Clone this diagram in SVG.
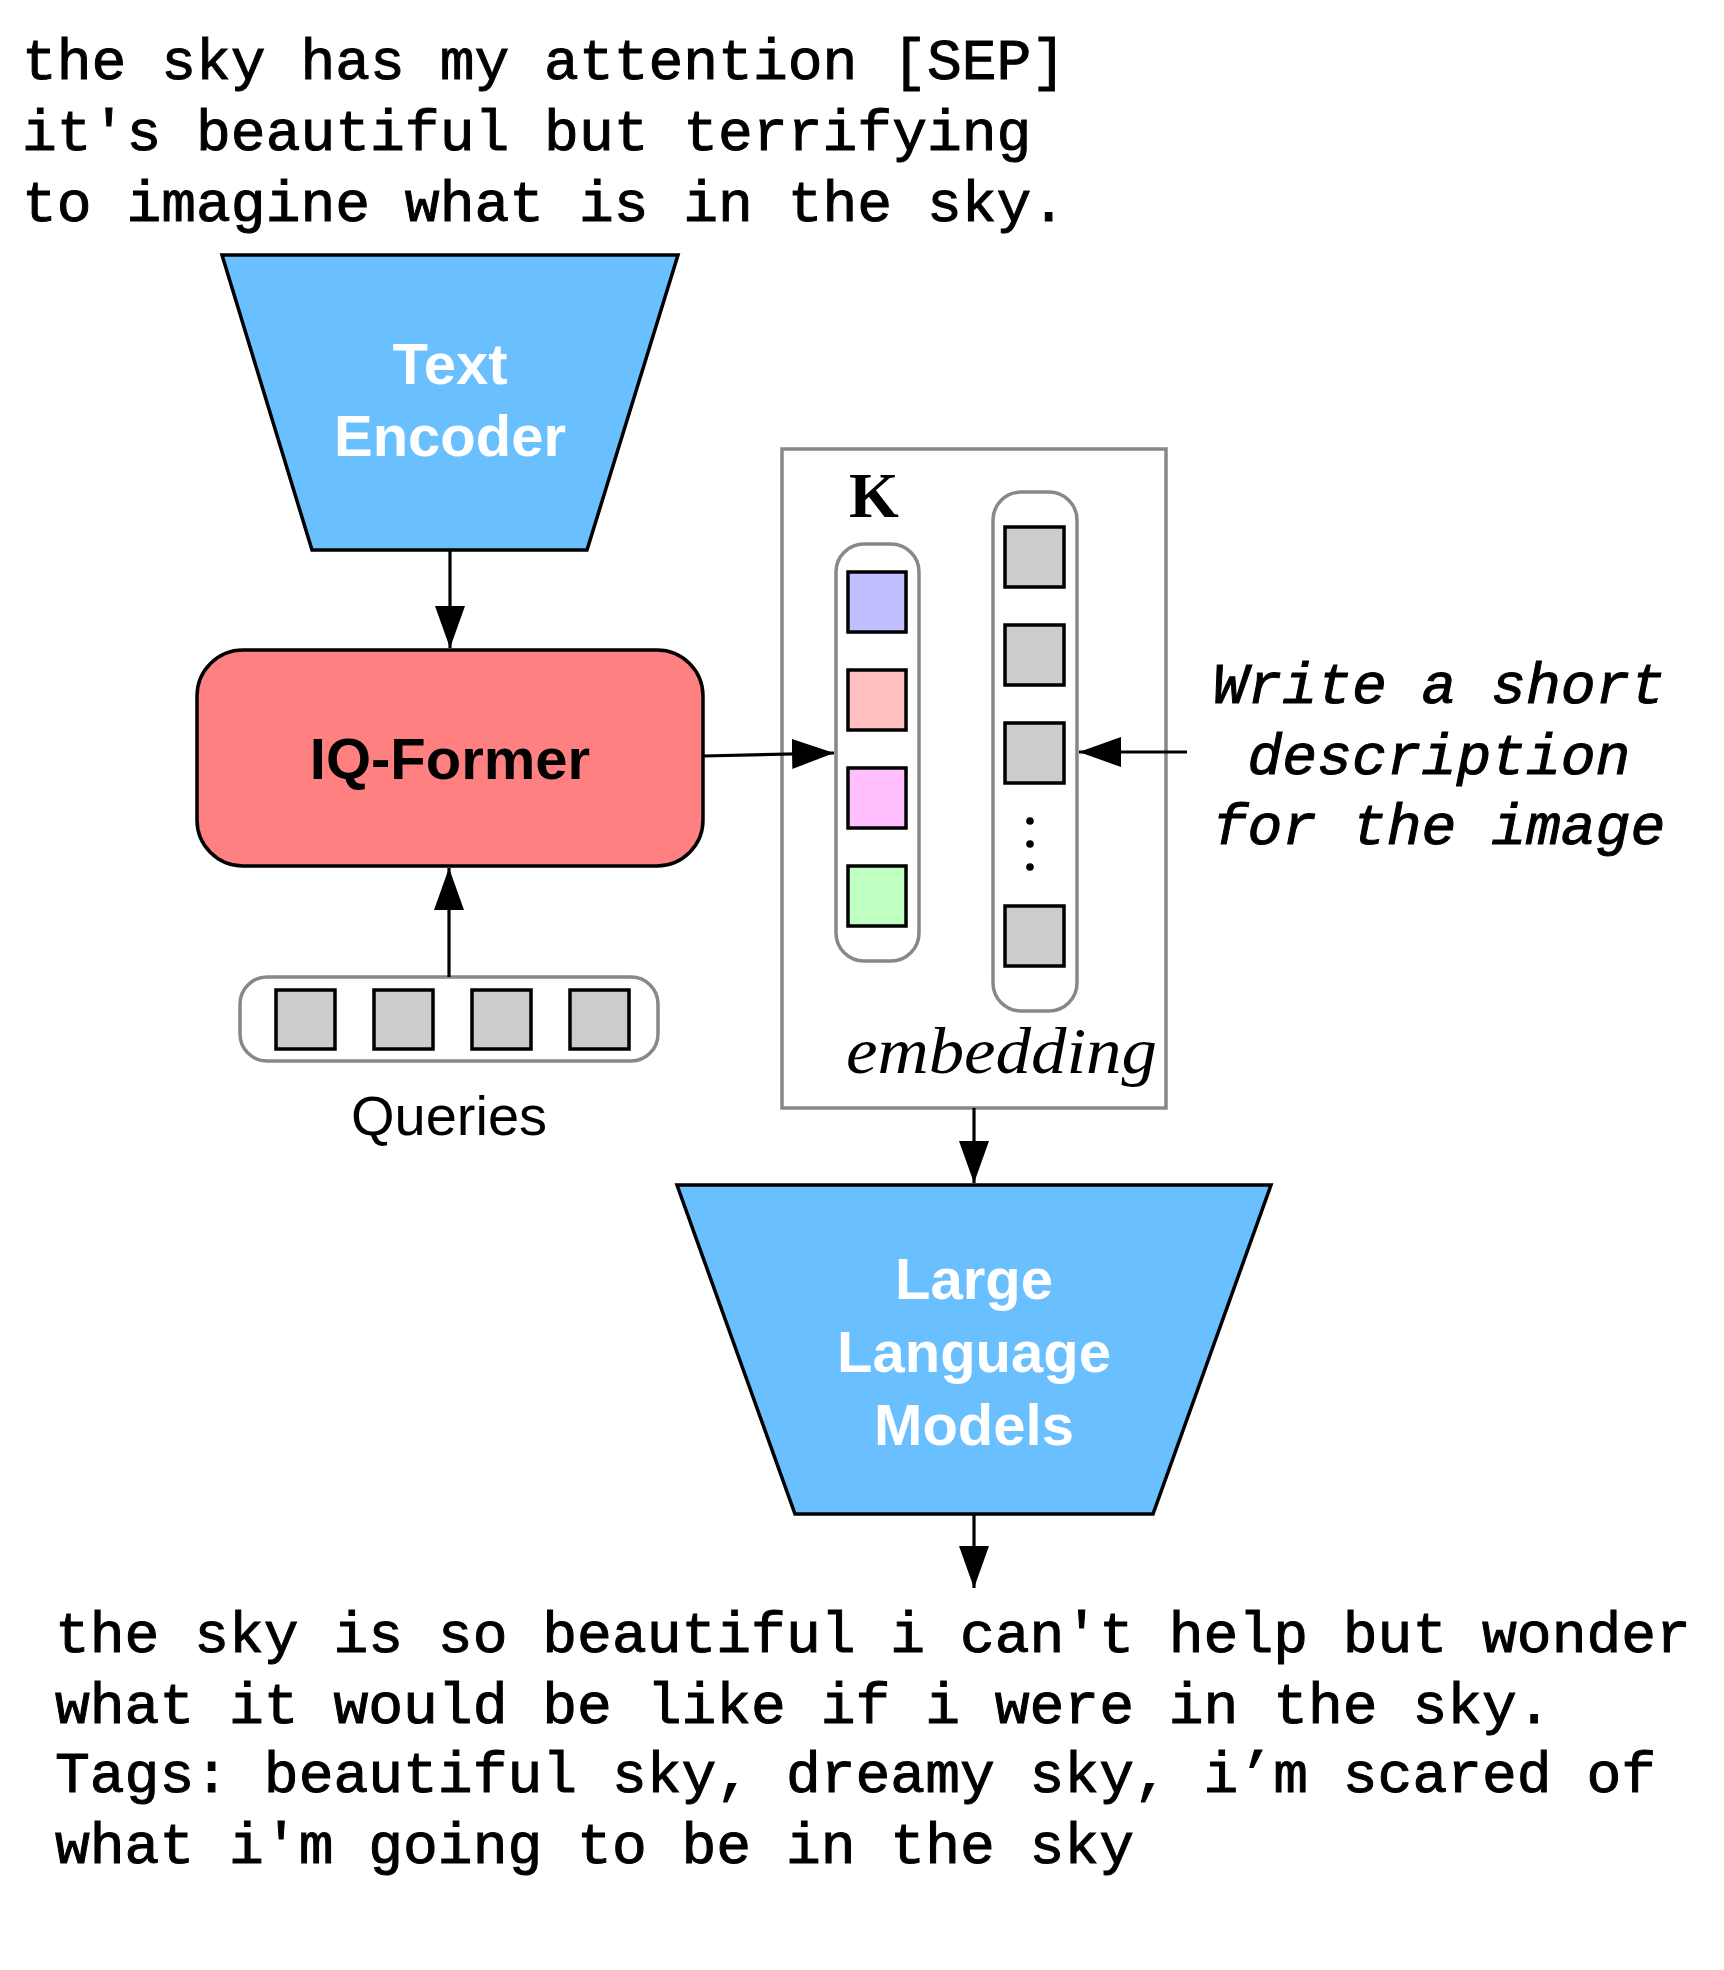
<svg xmlns="http://www.w3.org/2000/svg" width="1724" height="1970" viewBox="0 0 1724 1970">
<style>
.mono{font-family:"Liberation Mono","DejaVu Sans Mono",monospace;font-size:58px;fill:#000;stroke:#000;stroke-width:1}
.monoi{font-family:"Liberation Mono","DejaVu Sans Mono",monospace;font-size:58px;font-style:italic;fill:#000;stroke:#000;stroke-width:1}
.lbl{font-family:"Liberation Sans",Arial,sans-serif;font-size:58px;font-weight:bold;text-anchor:middle}
.blue{fill:#6ABFFF;stroke:#000;stroke-width:3.5;stroke-linejoin:miter}
.gbox{fill:#fff;stroke:#888;stroke-width:3.5}
.sq{fill:#CCCCCC;stroke:#000;stroke-width:3.5}
.conn{stroke:#000;stroke-width:3.2;fill:none}
</style>
<defs>
<marker id="ah" markerUnits="userSpaceOnUse" markerWidth="42" markerHeight="30" refX="42" refY="15" orient="auto">
<path d="M0,0 L42,15 L0,30 z" fill="#000"/>
</marker>
</defs>
<rect width="1724" height="1970" fill="#fff"/>

<g id="input-text">
<text class="mono" x="22" y="79">the sky has my attention [SEP]</text>
<text class="mono" x="22" y="150">it's beautiful but terrifying</text>
<text class="mono" x="22" y="221">to imagine what is in the sky.</text>
</g>

<g id="text-encoder">
<polygon class="blue" points="222,255 678,255 587,550 312,550"/>
<text class="lbl" x="450" y="384" fill="#fff">Text</text>
<text class="lbl" x="450" y="456" fill="#fff">Encoder</text>
</g>

<g id="iq-former">
<rect x="197" y="650" width="506" height="216" rx="46" ry="46" fill="#FF8080" stroke="#000" stroke-width="3.5"/>
<text class="lbl" x="450" y="779" fill="#000">IQ-Former</text>
</g>

<g id="queries">
<rect class="gbox" x="240" y="977" width="418" height="84" rx="27" ry="27"/>
<rect class="sq" x="276" y="990" width="59" height="59"/>
<rect class="sq" x="374" y="990" width="59" height="59"/>
<rect class="sq" x="472" y="990" width="59" height="59"/>
<rect class="sq" x="570" y="990" width="59" height="59"/>
<text x="449" y="1135" font-family="Liberation Sans,Arial,sans-serif" font-size="56" text-anchor="middle" fill="#000">Queries</text>
</g>

<g id="embedding-box">
<rect x="782" y="449" width="384" height="659" fill="none" stroke="#888" stroke-width="3.5"/>
<text x="849" y="517" font-family="Liberation Serif,'Times New Roman',serif" font-size="64" font-weight="bold" fill="#000">K</text>
<text x="846" y="1073" font-family="Liberation Serif,'Times New Roman',serif" font-size="66" font-style="italic" textLength="311" lengthAdjust="spacingAndGlyphs" fill="#000">embedding</text>
</g>

<g id="k-column">
<rect class="gbox" x="836" y="544" width="83" height="417" rx="28" ry="28"/>
<rect x="848" y="572" width="58" height="60" fill="#BFBFFF" stroke="#000" stroke-width="3.5"/>
<rect x="848" y="670" width="58" height="60" fill="#FFBFBF" stroke="#000" stroke-width="3.5"/>
<rect x="848" y="768" width="58" height="60" fill="#FFBFFF" stroke="#000" stroke-width="3.5"/>
<rect x="848" y="866" width="58" height="60" fill="#BFFFBF" stroke="#000" stroke-width="3.5"/>
</g>

<g id="prompt-column">
<rect class="gbox" x="993" y="492" width="84" height="519" rx="28" ry="28"/>
<rect class="sq" x="1005" y="527" width="59" height="60"/>
<rect class="sq" x="1005" y="625" width="59" height="60"/>
<rect class="sq" x="1005" y="723" width="59" height="60"/>
<circle cx="1030" cy="821" r="3.8" fill="#000"/>
<circle cx="1030" cy="844" r="3.8" fill="#000"/>
<circle cx="1030" cy="867" r="3.8" fill="#000"/>
<rect class="sq" x="1005" y="906" width="59" height="60"/>
</g>

<g id="prompt-text">
<text class="monoi" x="1439" y="703" text-anchor="middle">Write a short</text>
<text class="monoi" x="1439" y="774" text-anchor="middle">description</text>
<text class="monoi" x="1439" y="844" text-anchor="middle">for the image</text>
</g>

<g id="llm">
<polygon class="blue" points="677,1185 1271,1185 1153,1514 795,1514"/>
<text class="lbl" x="974" y="1299" fill="#fff">Large</text>
<text class="lbl" x="974" y="1372" fill="#fff">Language</text>
<text class="lbl" x="974" y="1445" fill="#fff">Models</text>
</g>

<g id="output-text">
<text class="mono" x="55" y="1652">the sky is so beautiful i can't help but wonder</text>
<text class="mono" x="55" y="1723">what it would be like if i were in the sky.</text>
<text class="mono" x="55" y="1792">Tags: beautiful sky, dreamy sky, i’m scared of</text>
<text class="mono" x="55" y="1863">what i'm going to be in the sky</text>
</g>

<g id="connectors">
<line class="conn" x1="450" y1="550" x2="450" y2="648" marker-end="url(#ah)"/>
<line class="conn" x1="449" y1="977" x2="449" y2="868" marker-end="url(#ah)"/>
<line class="conn" x1="703" y1="756" x2="834" y2="753" marker-end="url(#ah)"/>
<line class="conn" x1="1187" y1="752" x2="1079" y2="752" marker-end="url(#ah)"/>
<line class="conn" x1="974" y1="1108" x2="974" y2="1183" marker-end="url(#ah)"/>
<line class="conn" x1="974" y1="1514" x2="974" y2="1588" marker-end="url(#ah)"/>
</g>
</svg>
